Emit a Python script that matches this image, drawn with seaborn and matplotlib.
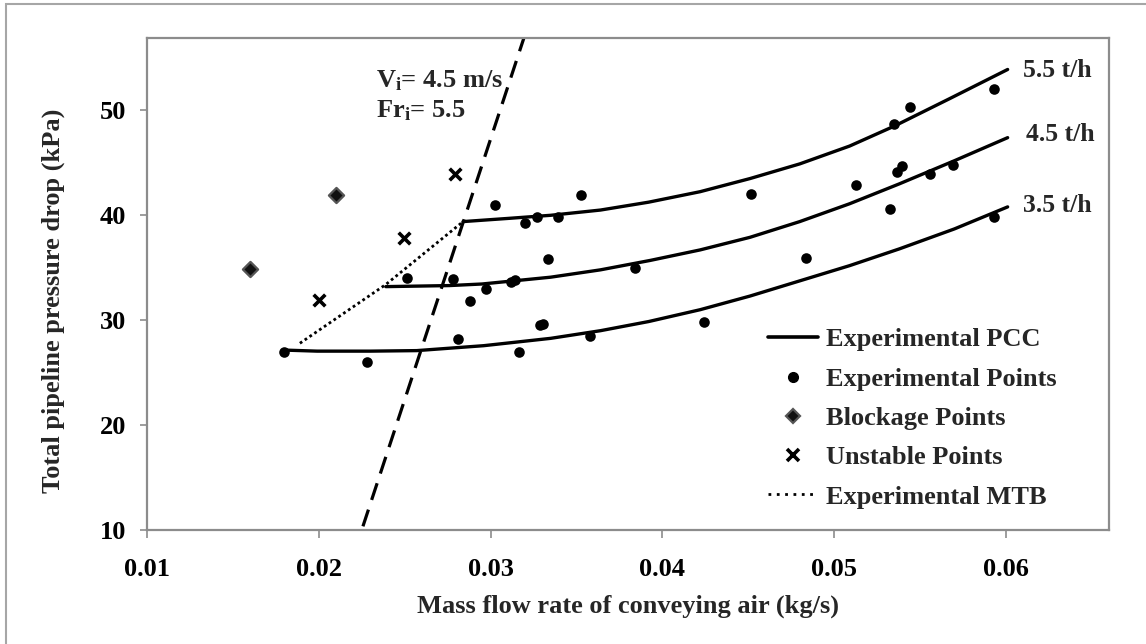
import numpy as np
import pandas as pd
import matplotlib
matplotlib.use("Agg")
import matplotlib.pyplot as plt
from matplotlib.lines import Line2D
from matplotlib.patches import Rectangle
import seaborn as sns

# ---------------- data ----------------
exp_x = [0.01797, 0.02279, 0.02511, 0.02783, 0.02812, 0.0288, 0.02973, 0.03028,
         0.0312, 0.03144, 0.03167, 0.0320, 0.03268, 0.03290, 0.03305, 0.03334,
         0.0339, 0.03528, 0.0358, 0.03838, 0.0424, 0.04517, 0.04836, 0.05129,
         0.05325, 0.05346, 0.05364, 0.05393, 0.05441, 0.05558, 0.05690, 0.05930,
         0.05930]
exp_y = [27.0, 26.0, 34.05, 33.9, 28.2, 31.8, 33.0, 41.0,
         33.65, 33.8, 27.0, 39.3, 39.8, 29.55, 29.6, 35.8,
         39.8, 41.9, 28.5, 35.0, 29.8, 42.0, 35.9, 42.9,
         40.6, 48.7, 44.1, 44.7, 50.3, 43.9, 44.8, 52.0,
         39.8]

block_x = [0.0160, 0.0210]
block_y = [34.9, 41.9]

unstable_x = [0.0200, 0.02496, 0.02794]
unstable_y = [31.9, 37.8, 43.9]

pcc55_x = [0.0284, 0.0310, 0.0335, 0.0364, 0.0392, 0.0422, 0.0451, 0.0480, 0.0509, 0.0535, 0.0567, 0.0601]
pcc55_y = [39.4, 39.7, 40.0, 40.5, 41.25, 42.25, 43.5, 44.9, 46.6, 48.5, 51.1, 53.9]

pcc45_x = [0.0239, 0.0276, 0.0295, 0.0335, 0.0364, 0.0393, 0.0422, 0.0451, 0.0480, 0.0509, 0.0538, 0.0570, 0.0601]
pcc45_y = [33.2, 33.3, 33.45, 34.1, 34.8, 35.7, 36.7, 37.9, 39.4, 41.1, 43.0, 45.2, 47.4]

pcc35_x = [0.0180, 0.0199, 0.0230, 0.0257, 0.0296, 0.0335, 0.0364, 0.0392, 0.0422, 0.0451, 0.0480, 0.0509, 0.0538, 0.0570, 0.0601]
pcc35_y = [27.15, 27.05, 27.05, 27.1, 27.57, 28.27, 29.0, 29.87, 31.0, 32.3, 33.75, 35.2, 36.8, 38.7, 40.8]

mtb_x = [0.0189, 0.0239, 0.0284]
mtb_y = [27.8, 33.4, 39.4]

vline_x = [0.02257, 0.0320]
vline_y = [10.35, 57.2]

rate_labels = ["5.5 t/h", "4.5 t/h", "3.5 t/h"]

x_ticks = [0.01, 0.02, 0.03, 0.04, 0.05, 0.06]
y_ticks = [10, 20, 30, 40, 50]

# ---------------- style ----------------
sns.set_style("white")
plt.rcParams["font.family"] = ["Liberation Serif", "DejaVu Serif"]
plt.rcParams["font.weight"] = "bold"
plt.rcParams["mathtext.fontset"] = "custom"
plt.rcParams["mathtext.rm"] = "Liberation Serif:bold"
plt.rcParams["mathtext.it"] = "Liberation Serif:bold"
plt.rcParams["mathtext.bf"] = "Liberation Serif:bold"

W, H = 1146, 644
fig = plt.figure(figsize=(W / 100, H / 100), dpi=100)
fig.patch.set_facecolor("white")
ax = fig.add_axes([147 / W, (H - 530) / H, 962 / W, 492 / H])

# outer (cropped) figure border
fig.patches.append(Rectangle((6 / W, -0.5), 2.0, 1.5 - 4 / H, transform=fig.transFigure,
                             fill=False, edgecolor="#a6a6a6", lw=1.5))

lw_curve = 2.4
for cx, cy in [(pcc55_x, pcc55_y), (pcc45_x, pcc45_y), (pcc35_x, pcc35_y)]:
    df = pd.DataFrame({"x": cx, "y": cy})
    sns.lineplot(data=df, x="x", y="y", color="black", lw=lw_curve, ax=ax,
                 sort=False, estimator=None)

df_mtb = pd.DataFrame({"x": mtb_x, "y": mtb_y})
sns.lineplot(data=df_mtb, x="x", y="y", color="black", lw=2.0, ax=ax, sort=False,
             estimator=None, linestyle=(0, (1, 1.1)))

df_v = pd.DataFrame({"x": vline_x, "y": vline_y})
sns.lineplot(data=df_v, x="x", y="y", color="black", lw=2.3, ax=ax, sort=False,
             estimator=None, dashes=False, linestyle=(0, (5.5, 3.2)))

sns.scatterplot(x=exp_x, y=exp_y, ax=ax, color="black", marker="o", s=58,
                edgecolor="black", linewidth=0, zorder=5)
sns.scatterplot(x=block_x, y=block_y, ax=ax, color="#111111", marker="D", s=60,
                edgecolor="#555555", linewidth=1.6, zorder=5)
sns.scatterplot(x=unstable_x, y=unstable_y, ax=ax, color="black", marker="x", s=70,
                linewidth=2.6, zorder=5)

ax.set_xlim(0.01, 0.066)
ax.set_ylim(10, 56.9)
ax.set_xticks(x_ticks)
ax.set_xticklabels([f"{t:.2f}" for t in x_ticks])
ax.set_yticks(y_ticks)
ax.set_yticklabels([str(t) for t in y_ticks])

for sp in ax.spines.values():
    sp.set_visible(True)
    sp.set_color("#8c8c8c")
    sp.set_linewidth(1.6)

ax.tick_params(axis="x", direction="out", length=6, width=1.2, color="#8c8c8c",
               pad=14, labelsize=19, labelcolor="black", bottom=True)
ax.tick_params(axis="y", direction="out", length=5, width=1.2, color="#8c8c8c",
               pad=10, labelsize=19, labelcolor="black", left=True)
for lab in ax.get_xticklabels() + ax.get_yticklabels():
    lab.set_fontweight("bold")

ax.set_xlabel("Mass flow rate of conveying air (kg/s)", fontsize=19, fontweight="bold")
ax.set_ylabel("Total pipeline pressure drop (kPa)", fontsize=19, fontweight="bold")
ax.xaxis.set_label_coords(0.5, -0.132)
ax.yaxis.set_label_coords(-0.085, 0.4654)

# annotations
ax.text(0.02333, 52.2, r"V$_\mathrm{i}$= 4.5 m/s", fontsize=19, fontweight="bold", va="baseline")
ax.text(0.02333, 49.36, r"Fr$_\mathrm{i}$= 5.5", fontsize=19, fontweight="bold", va="baseline")

label_pos = [(0.06097, 53.17), (0.06116, 47.08), (0.06097, 40.31)]
for txt, (lx, ly) in zip(rate_labels, label_pos):
    ax.text(lx, ly, txt, fontsize=18.5, fontweight="bold", va="baseline", ha="left")

handles = [
    Line2D([], [], color="black", lw=2.6),
    Line2D([], [], color="black", marker="o", ls="none", markersize=7),
    Line2D([], [], color="#111111", marker="D", ls="none", markersize=7.5,
           markeredgecolor="#555555", markeredgewidth=1.6),
    Line2D([], [], color="black", marker="x", ls="none", markersize=8, markeredgewidth=2.6),
    Line2D([], [], color="black", lw=2.0, linestyle=(0, (1, 2))),
]
labels = ["Experimental PCC", "Experimental Points", "Blockage Points",
          "Unstable Points", "Experimental MTB"]
leg = fig.legend(handles, labels, loc="upper left", bbox_to_anchor=(768 / W, 1 - 328 / H),
                 frameon=False, borderpad=0, borderaxespad=0, handlelength=1.9,
                 handletextpad=0.3, labelspacing=0.6,
                 prop={"family": "Liberation Serif", "weight": "bold", "size": 19})

fig.savefig("out.png", dpi=100, facecolor="white")
